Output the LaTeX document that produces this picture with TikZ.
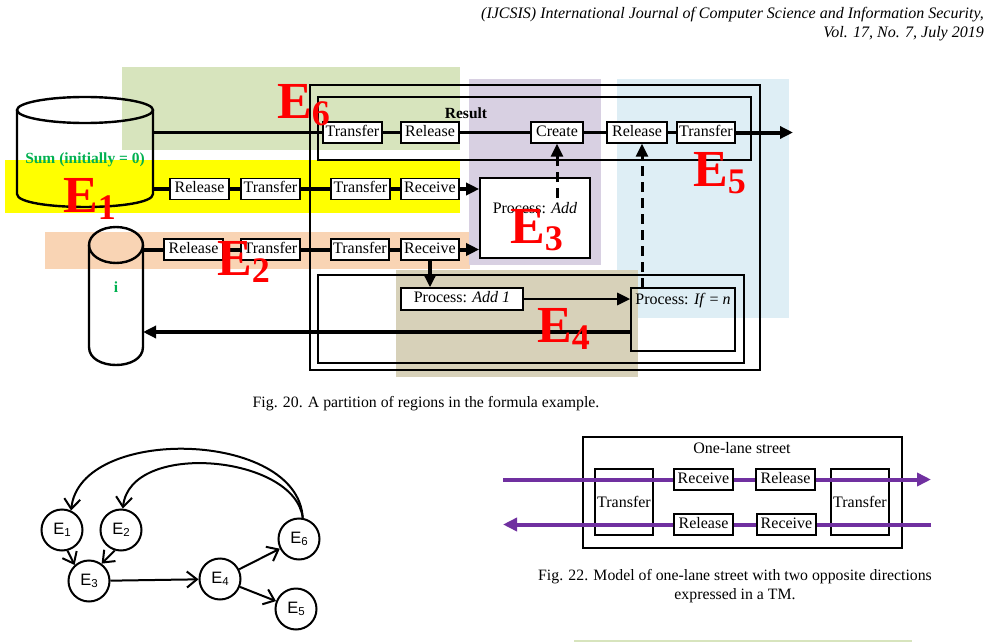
\documentclass[tikz,border=0pt]{standalone}
\usepackage{fontspec}
\setmainfont{Liberation Serif}
\newfontfamily\arialf{Liberation Sans}
\usetikzlibrary{arrows.meta}
\definecolor{cEsix}{HTML}{D7E4BD}
\definecolor{cEone}{HTML}{FFFF00}
\definecolor{cEtwo}{HTML}{F9D4B4}
\definecolor{cEthree}{HTML}{D8D0E2}
\definecolor{cEfive}{HTML}{DEEEF5}
\definecolor{cEfour}{HTML}{D7D1B9}
\definecolor{sumgreen}{HTML}{00B050}
\definecolor{streetpurple}{HTML}{7030A0}
\newcommand\Elabel[1]{E\raisebox{-7pt}{\fontsize{36}{36}\selectfont #1}}
\newcommand\Gsub[1]{E\raisebox{-2.5pt}{\fontsize{11.5}{11.5}\selectfont #1}}
\tikzset{
  lab/.style={draw, fill=white, line width=1.4pt, inner sep=0pt, minimum height=21pt,
    text height=10.5pt, text depth=3pt, font=\fontsize{16}{16}\selectfont},
  frame/.style={draw, line width=2pt, inner sep=0pt},
  flow/.style={line width=2.7pt},
  thickflow/.style={line width=4pt},
  tri/.style={-{Triangle[length=13pt,width=12pt]}},
  dashflow/.style={line width=3pt, dash pattern=on 10pt off 6pt},
  bigE/.style={text=red, font=\fontsize{52}{52}\selectfont\bfseries, inner sep=0pt, anchor=base west},
  cyl/.style={line width=2.4pt},
  gnode/.style={circle, draw, line width=2pt, minimum size=41pt, inner sep=0pt,
    font=\arialf\fontsize{16.5}{16.5}\selectfont},
  garr/.style={line width=2pt, -{Straight Barb[length=10pt,width=16pt]}},
  purp/.style={draw=streetpurple, line width=4pt},
  purptip/.style={-{Triangle[length=14pt,width=13pt]}},
  txt/.style={inner sep=0pt, font=\fontsize{15.8}{15.8}\selectfont}
}
\begin{document}
\begin{tikzpicture}[x=1pt,y=-1pt]
\useasboundingbox (0,0) rectangle (991,642);

% header
\node[txt, anchor=base east, font=\fontsize{16}{16}\selectfont\itshape] (h1) at (984,19)
  {(IJCSIS) International Journal of Computer Science and Information Security,};
\node[txt, anchor=base east, font=\fontsize{16}{16}\selectfont\itshape] (h2) at (984,38)
  {Vol. 17, No. 7, July 2019};

% ---------- Fig. 20 ----------
% region backgrounds
\fill[cEsix] (122,67) rectangle (460,150);
\fill[cEone] (5,160) rectangle (460,213);
\fill[cEtwo] (45,232) rectangle (470,269);
\fill[cEthree] (469,79) rectangle (601,265);
\fill[cEfive] (617,79) rectangle (789,318);
\fill[cEfour] (396,270) rectangle (638,377);

% frames
\node[frame, minimum width=450pt, minimum height=285pt] (outer) at (535,227.5) {};
\node[frame, minimum width=433pt, minimum height=63pt] (result) at (534.5,128.5) {};
\node[frame, minimum width=426pt, minimum height=88pt] (inner) at (531,319) {};
\node[txt, font=\fontsize{15.5}{15.5}\selectfont\bfseries] (resT) at (466,113) {Result};

% cylinders
\draw[cyl] (17,110) -- (17,194) .. controls (17,211.3) and (153,211.3) .. (153,194) -- (153,110);
\draw[cyl] (85,110) ellipse [x radius=68, y radius=13];
\node[txt, text=sumgreen, font=\fontsize{15.5}{15.5}\selectfont\bfseries] (sumT) at (85,160) {Sum (initially = 0)};
\draw[cyl] (89,245) -- (89,347) .. controls (89,371) and (143,371) .. (143,347) -- (143,245);
\draw[cyl] (116,245) ellipse [x radius=27, y radius=18];
\node[txt, text=sumgreen, font=\fontsize{15.5}{15.5}\selectfont\bfseries] (iT) at (116,287) {i};

\coordinate (sumA) at (153,132.5);
\coordinate (sumB) at (153,189);
\coordinate (iA) at (143,249.5);
\coordinate (iB) at (143,332);
\coordinate (outA) at (793,132.5);

% process boxes
\node[draw, fill=white, line width=1.6pt, minimum width=110pt, minimum height=80pt, inner sep=0pt] (padd) at (535,218) {};
\node[txt, font=\fontsize{16}{16}\selectfont] (paddT) at (535,208) {Process: \textit{Add}};
\node[lab, minimum width=122pt, minimum height=22pt] (add1) at (462,299) {Process: \textit{Add 1}};
\node[draw, line width=1.6pt, minimum width=104pt, minimum height=63pt, inner sep=0pt] (ifn) at (683,319.5) {};
\node[txt, font=\fontsize{16}{16}\selectfont] (ifnT) at (683,301) {Process: \textit{If} = \textit{n}};

% top row
\node[lab, minimum width=59pt] (t1) at (352.5,132.5) {Transfer};
\node[lab, minimum width=58pt] (r1) at (430,132.5) {Release};
\node[lab, minimum width=52pt] (cr) at (557,132.5) {Create};
\node[lab, minimum width=60pt] (r2) at (637,132.5) {Release};
\node[lab, minimum width=58pt] (t2) at (706,132.5) {Transfer};
% yellow row
\node[lab, minimum width=59pt] (y1) at (199.5,189) {Release};
\node[lab, minimum width=59pt] (y2) at (270.5,189) {Transfer};
\node[lab, minimum width=59pt] (y3) at (360.5,189) {Transfer};
\node[lab, minimum width=58pt] (y4) at (430,189) {Receive};
% orange row
\node[lab, minimum width=59pt] (o1) at (193.5,249.5) {Release};
\node[lab, minimum width=59pt] (o2) at (270.5,249.5) {Transfer};
\node[lab, minimum width=58pt] (o3) at (360,249.5) {Transfer};
\node[lab, minimum width=58pt] (o4) at (430,249.5) {Receive};

% flows
\draw[flow] (sumA) -- (t1) (t1) -- (r1) (r1) -- (cr) (cr) -- (r2) (r2) -- (t2);
\draw[thickflow, tri] (t2) -- (outA);
\draw[thickflow] (sumB) -- (y1) (y1) -- (y2) (y2) -- (y3) (y3) -- (y4);
\draw[thickflow, tri] (y4) -- (y4 -| padd.west);
\draw[thickflow] (iA) -- (o1) (o1) -- (o2) (o2) -- (o3) (o3) -- (o4);
\draw[thickflow, tri] (o4) -- (o4 -| padd.west);
\draw[thickflow, tri] (o4) -- (o4 |- add1.north);
\draw[flow, tri] (add1) -- (add1 -| ifn.west);
\draw[thickflow, tri] (iB -| ifn.west) -- (iB);
\coordinate (dA) at (557,198);
\coordinate (dB) at (642,288);
\draw[dashflow, tri] (dA) -- (dA |- cr.south);
\draw[dashflow, tri] (dB) -- (dB |- r2.south);

% region labels
\node[bigE] (E6) at (277,118) {\Elabel{6}};
\node[bigE] (E1) at (63,212) {\Elabel{1}};
\node[bigE] (E2) at (217,275) {\Elabel{2}};
\node[bigE] (E3) at (510,243) {\Elabel{3}};
\node[bigE] (E4) at (537,342) {\Elabel{4}};
\node[bigE] (E5) at (693,186) {\Elabel{5}};

\node[txt] (cap20) at (426,404) {Fig. 20. A partition of regions in the formula example.};

% ---------- Fig. 21 ----------
\node[gnode] (g1) at (62,530) {\Gsub{1}};
\node[gnode] (g2) at (121,530) {\Gsub{2}};
\node[gnode] (g3) at (89,581) {\Gsub{3}};
\node[gnode] (g4) at (220,579) {\Gsub{4}};
\node[gnode] (g5) at (296,609) {\Gsub{5}};
\node[gnode] (g6) at (299,539) {\Gsub{6}};
\draw[garr] (g1.-75) -- (g3.132);
\draw[garr] (g2.-107) -- (g3.54);
\draw[garr] (g3) -- (g4);
\draw[garr] (g4) -- (g6);
\draw[garr] (g4) -- (g5);
\draw[garr] (g6.80) .. controls (298,430) and (80,425) .. (g1.65);
\draw[garr] (g6.80) .. controls (295,455) and (130,440) .. (g2.85);

% ---------- Fig. 22 ----------
\node[frame, line width=1.5pt, minimum width=319pt, minimum height=111pt] (street) at (742.5,492.5) {};
\node[txt, font=\fontsize{16}{16}\selectfont] (streetT) at (742,448) {One-lane street};
\node[draw, line width=1.5pt, minimum width=58pt, minimum height=66pt, inner sep=0pt, font=\fontsize{16}{16}\selectfont] (sTL) at (624,502) {Transfer};
\node[draw, line width=1.5pt, minimum width=58pt, minimum height=66pt, inner sep=0pt, font=\fontsize{16}{16}\selectfont] (sTR) at (860,502) {Transfer};
\node[lab, minimum width=59pt] (sR1) at (703.5,479.5) {Receive};
\node[lab, minimum width=59pt] (sL1) at (785.5,479.5) {Release};
\node[lab, minimum width=59pt] (sL2) at (703.5,524.5) {Release};
\node[lab, minimum width=59pt] (sR2) at (786.5,524.5) {Receive};
\coordinate (p1s) at (503,479.5);
\coordinate (p1e) at (931,479.5);
\coordinate (p2s) at (931,524.5);
\coordinate (p2e) at (503,524.5);
\draw[purp] (p1s) -- (sR1) (sR1) -- (sL1);
\draw[purp, purptip] (sL1) -- (p1e);
\draw[purp] (p2s) -- (sR2) (sR2) -- (sL2);
\draw[purp, purptip] (sL2) -- (p2e);
\node[txt, align=center, font=\fontsize{15.8}{18.5}\selectfont] (cap22) at (735,586)
  {Fig. 22. Model of one-lane street with two opposite directions\\expressed in a TM.};

\fill[cEsix] (574,640) rectangle (912,642);
\end{tikzpicture}
\end{document}
